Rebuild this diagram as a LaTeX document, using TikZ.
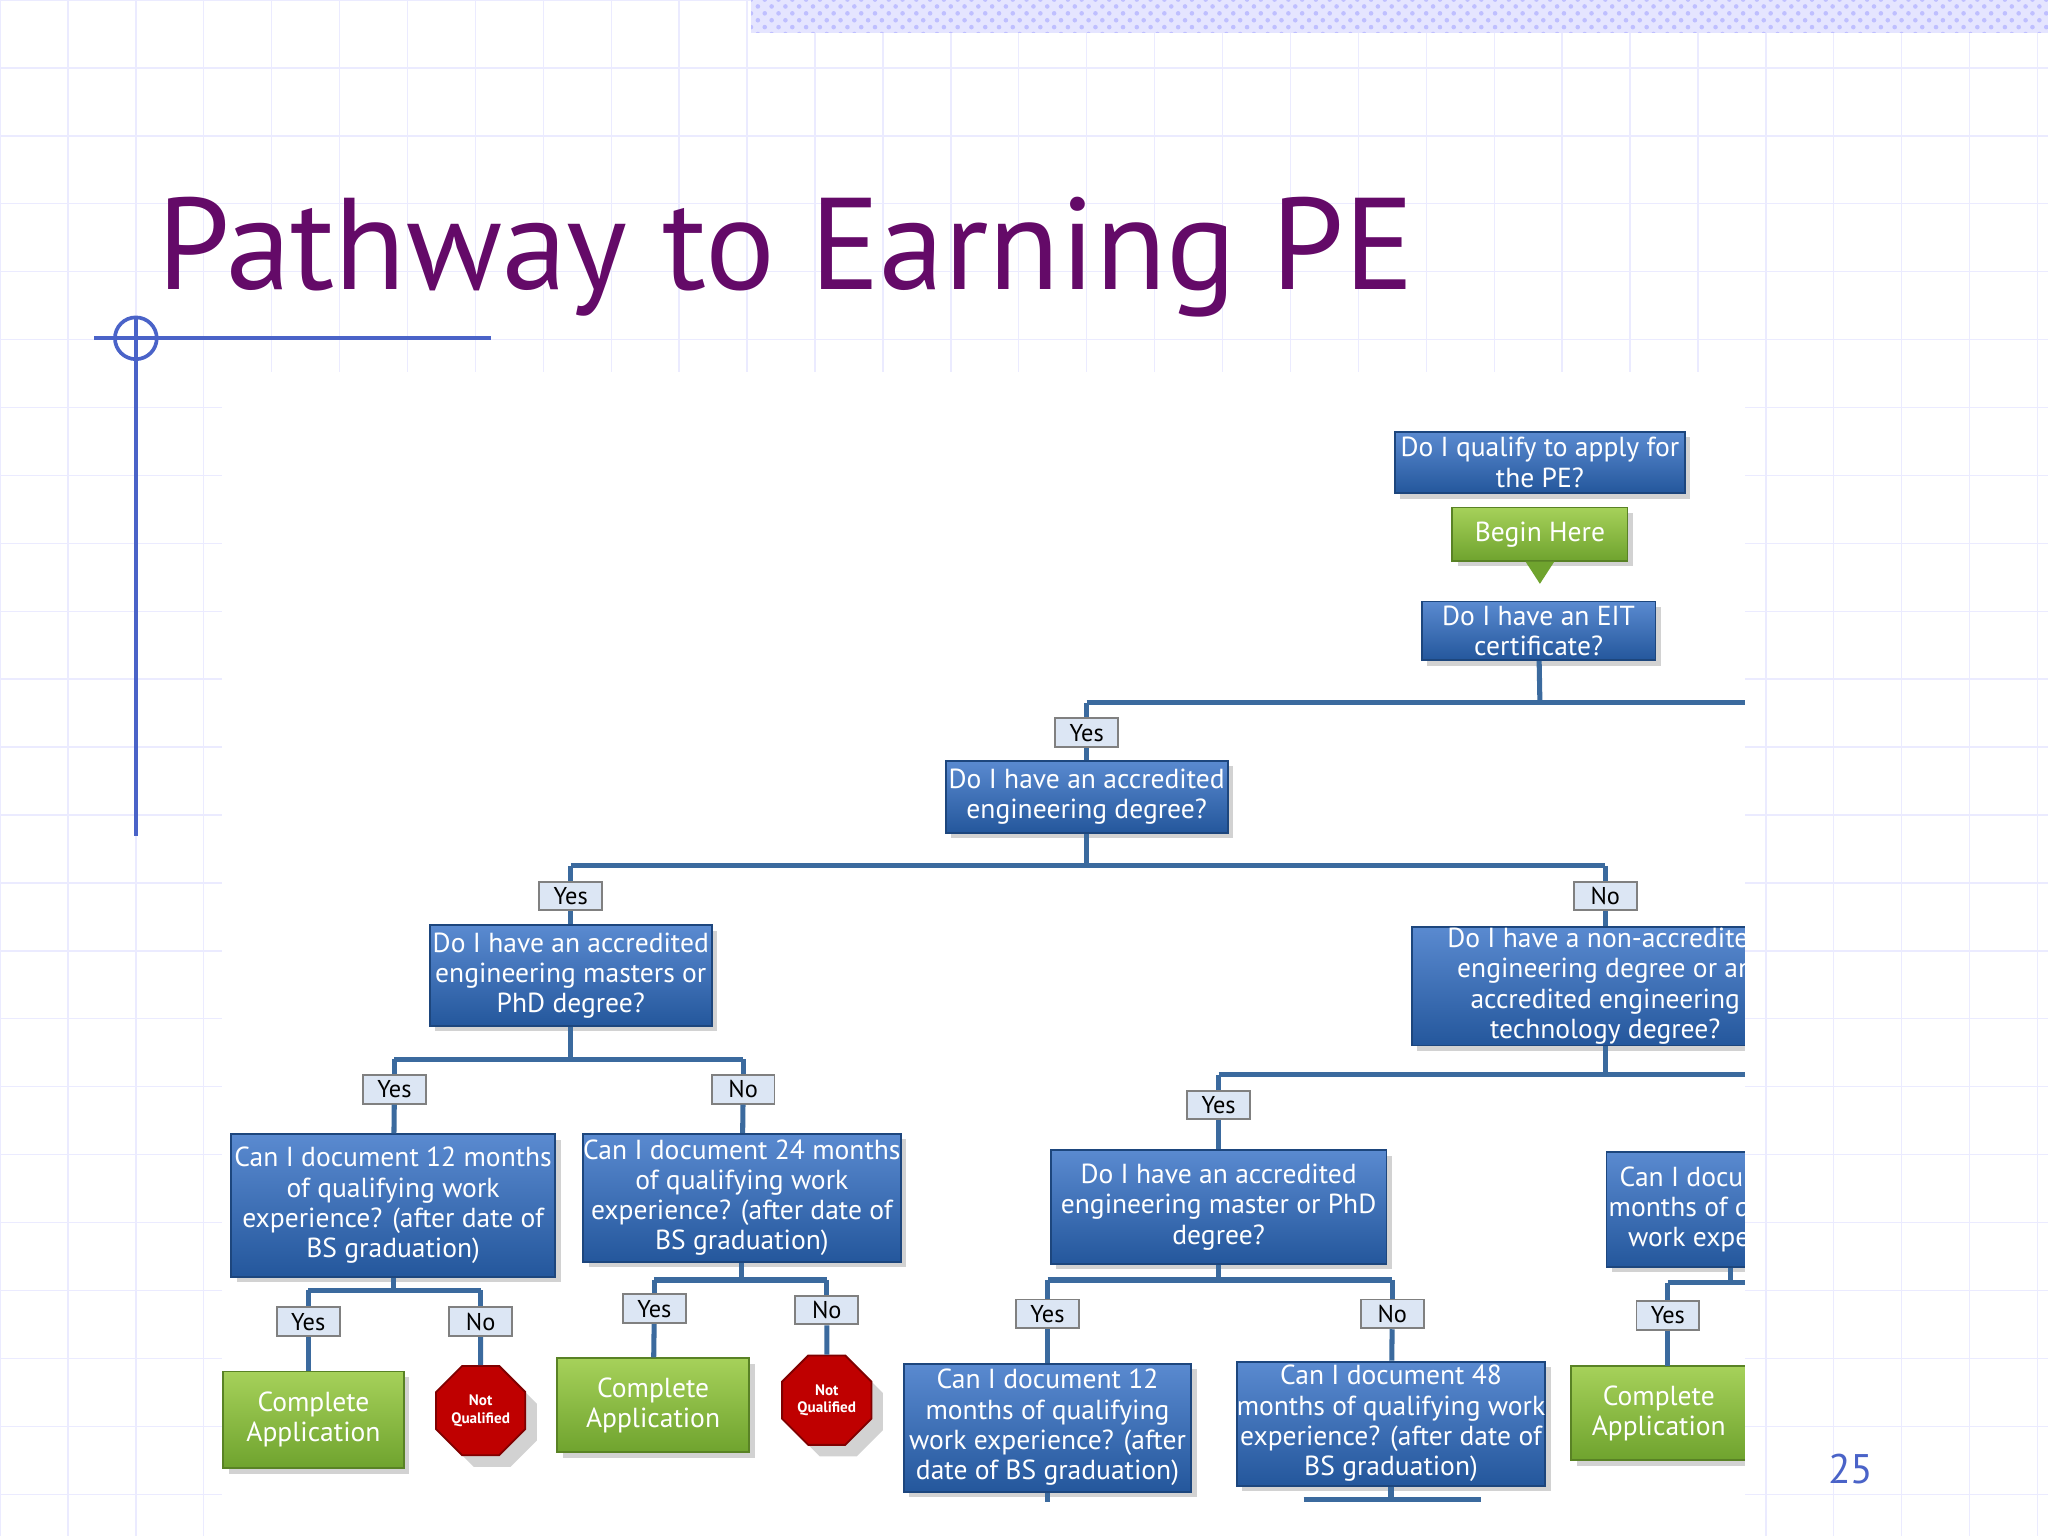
\documentclass[tikz,border=0pt]{standalone}
\usepackage{fontspec}
\setmainfont{PT Sans}
\usetikzlibrary{shapes.geometric,shadows,patterns}
\definecolor{ttl}{HTML}{640A68}
\definecolor{axis}{HTML}{4A63C8}
\definecolor{bl1}{HTML}{5A8AD0}
\definecolor{bl2}{HTML}{24579C}
\definecolor{gr1}{HTML}{A6D15A}
\definecolor{gr2}{HTML}{6FA32E}
\definecolor{lbl}{HTML}{DCE6F4}
\definecolor{ln}{HTML}{3B6A9E}
\tikzset{
 qbox/.style={draw=bl2!80!black,top color=bl1,bottom color=bl2,text=white,align=center,inner sep=0pt,
   font=\fontsize{6}{6.6}\selectfont,drop shadow={opacity=0.35,shadow xshift=1.2pt,shadow yshift=-1.2pt}},
 gbox/.style={draw=gr2!80!black,top color=gr1,bottom color=gr2,text=white,align=center,inner sep=0pt,
   font=\fontsize{6}{6.6}\selectfont,drop shadow={opacity=0.35,shadow xshift=1.2pt,shadow yshift=-1.2pt}},
 lab/.style={draw=gray,fill=lbl,inner sep=0pt,minimum width=0.48cm,minimum height=0.22cm,font=\fontsize{5.3}{6}\selectfont},
 nq/.style={regular polygon,regular polygon sides=8,draw=red!50!black,fill=red!75!black,text=white,minimum size=0.74cm,inner sep=0pt,align=center,font=\bfseries\fontsize{3.3}{3.8}\selectfont,drop shadow={opacity=0.35}},
 con/.style={draw=ln,line width=1.1pt}
}
\newcommand{\bx}[7]{\node[#1,minimum width=#5*0.01cm,minimum height=#6*0.01cm] (#2) at (#3,#4) {#7};}
\begin{document}
\begin{tikzpicture}[x=0.01cm,y=-0.01cm]
\useasboundingbox (0,0) rectangle (1568,1176);
\fill[white] (0,0) rectangle (1568,1176);
\foreach \i in {0,...,30}{\draw[blue!8,line width=0.3pt] (\i*52,0) -- (\i*52,1176);}
\foreach \j in {0,...,23}{\draw[blue!8,line width=0.3pt] (0,\j*52) -- (1568,\j*52);}
\fill[blue!10] (575,0) rectangle (1568,25);
\fill[pattern=crosshatch dots,pattern color=blue!25] (575,0) rectangle (1568,25);
\node[anchor=base west,text=ttl,font=\fontsize{28.4}{32}\selectfont,inner sep=0] (title) at (120,222) {Pathway to Earning PE};
\draw[axis,line width=0.8pt] (72,259) -- (376,259);
\draw[axis,line width=0.8pt] (104,243) -- (104,640);
\draw[axis,line width=0.8pt] (104,259) circle (16);
\node[text=axis,font=\fontsize{9}{11}\selectfont] (pg) at (1417,1125) {25};
\fill[white] (170,285) rectangle (1336,1176);
\begin{scope}
\clip (165,280) rectangle (1336,1176);
\bx{qbox}{q0}{1179}{354}{222}{47}{Do I qualify to apply for\\the PE?}
\bx{gbox}{beg}{1179}{409}{134}{41}{Begin Here}
\bx{qbox}{eit}{1178}{483}{179}{45}{Do I have an EIT\\certificate?}
\fill[gr2] (1168,430) -- (1190,430) -- (1179,447) -- cycle;
\coordinate (j1) at (1179,538);
\draw[con] (eit) -- (j1);
\draw[con] (832,538) -- (1340,538);
\node[lab] (y1) at (832,561) {Yes};
\draw[con] (832,538) -- (y1);
\bx{qbox}{acc}{832}{610}{216}{55}{Do I have an accredited\\engineering degree?}
\draw[con] (y1) -- (acc);
\draw[con] (acc) -- (832,663);
\draw[con] (437,663) -- (1229,663);
\node[lab] (y2) at (437,686) {Yes};
\node[lab] (n2) at (1229,686) {No};
\draw[con] (437,663) -- (y2); \draw[con] (1229,663) -- (n2);
\bx{qbox}{ms}{437}{747}{216}{77}{Do I have an accredited\\engineering masters or\\PhD degree?}
\bx{qbox}{na}{1229}{755}{296}{91}{Do I have a non-accredited\\engineering degree or an\\accredited engineering\\technology degree?}
\draw[con] (y2) -- (ms); \draw[con] (n2) -- (na);
\draw[con] (ms) -- (437,811);
\draw[con] (302,811) -- (569,811);
\node[lab] (y3) at (302,834) {Yes};
\node[lab] (n3) at (569,834) {No};
\draw[con] (302,811) -- (y3); \draw[con] (569,811) -- (n3);
\bx{qbox}{c12}{301}{923}{248}{109}{Can I document 12 months\\of qualifying work\\experience? (after date of\\BS graduation)}
\bx{qbox}{c24}{568}{917}{236}{98}{Can I document 24 months\\of qualifying work\\experience? (after date of\\BS graduation)}
\draw[con] (y3) -- (c12); \draw[con] (n3) -- (c24);
\draw[con] (c12) -- (301,988);
\draw[con] (236,988) -- (368,988);
\node[lab] (y4) at (236,1012) {Yes};
\node[lab] (n4) at (368,1012) {No};
\draw[con] (236,988) -- (y4); \draw[con] (368,988) -- (n4);
\bx{gbox}{ca1}{240}{1087}{138}{74}{Complete\\Application}
\node[nq] (nq1) at (368,1080) {Not\\Qualified};
\draw[con] (y4) -- (236,1050); \draw[con] (n4) -- (nq1);
\draw[con] (c24) -- (568,980);
\draw[con] (501,980) -- (633,980);
\node[lab] (y5) at (501,1002) {Yes};
\node[lab] (n5) at (633,1003) {No};
\draw[con] (501,980) -- (y5); \draw[con] (633,980) -- (n5);
\bx{gbox}{ca2}{500}{1076}{147}{72}{Complete\\Application}
\node[nq] (nq2) at (633,1072) {Not\\Qualified};
\draw[con] (y5) -- (ca2); \draw[con] (n5) -- (nq2);
\draw[con] (na) -- (1229,823);
\draw[con] (933,823) -- (1340,823);
\node[lab] (y6) at (933,846) {Yes};
\draw[con] (933,823) -- (y6);
\bx{qbox}{am}{933}{924}{257}{87}{Do I have an accredited\\engineering master or PhD\\degree?}
\draw[con] (y6) -- (am);
\draw[con] (am) -- (933,980);
\draw[con] (802,980) -- (1066,980);
\node[lab] (y7) at (802,1006) {Yes};
\node[lab] (n7) at (1066,1006) {No};
\draw[con] (802,980) -- (y7); \draw[con] (1066,980) -- (n7);
\bx{qbox}{c12b}{802}{1093}{220}{98}{Can I document 12\\months of qualifying\\work experience? (after\\date of BS graduation)}
\bx{qbox}{c48}{1065}{1090}{229}{95}{Can I document 48\\months of qualifying work\\experience? (after date of\\BS graduation)}
\draw[con] (y7) -- (c12b); \draw[con] (n7) -- (c48);
\coordinate (e1) at (802,1150);
\draw[con] (c12b) -- (e1);
\draw[con] (c48) -- (1065,1148);
\draw[con] (998,1148) -- (1134,1148);
\bx{qbox}{c48b}{1325}{926}{190}{88}{Can I document 48\\months of qualifying\\work experience?}
\draw[con] (c48b) -- (1325,982);
\draw[con] (1277,982) -- (1340,982);
\node[lab] (y8) at (1277,1007) {Yes};
\draw[con] (1277,982) -- (y8);
\bx{gbox}{ca3}{1270}{1082}{134}{72}{Complete\\Application}
\draw[con] (y8) -- (1277,1046);
\end{scope}
\end{tikzpicture}
\end{document}
